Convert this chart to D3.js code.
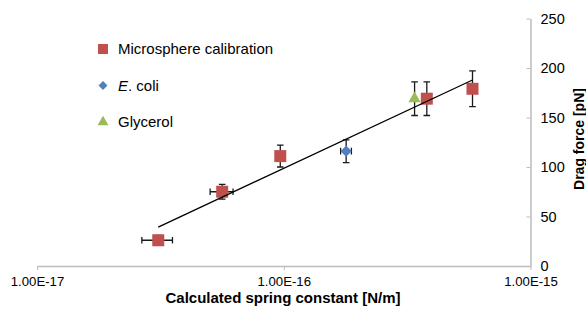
<!DOCTYPE html>
<html>
<head>
<meta charset="utf-8">
<script src="https://cdn.jsdelivr.net/npm/d3@7"></script>
<style>
  body { margin: 0; background: #fff; }
  svg { display: block; font-family: "Liberation Sans", Arial, sans-serif; }
</style>
</head>
<body>
<svg></svg>
<script>
//data
const seriesNames = ["Microsphere calibration", "E. coli", "Glycerol"];
const xTicks = [1e-17, 1e-16, 1e-15];
const yTicks = [0, 50, 100, 150, 200, 250];

// Microsphere calibration
const microK = [3.1e-17, 5.63e-17, 9.68e-17, 3.8e-16, 5.82e-16];
const microKerr = [0.44e-17, 0.6e-17, 0, 0, 0];
const microF = [26, 75, 111, 169, 179];
const microFerr = [5, 7.5, 11, 17, 18];
// E. coli
const ecoliK = [1.79e-16];
const ecoliKerr = [0.09e-16];
const ecoliF = [116];
const ecoliFerr = [11.5];
// Glycerol
const glyK = [3.39e-16];
const glyKerr = [0];
const glyF = [169];
const glyFerr = [17];

//setting
const Width = 586;
const Height = 312;
const svg = d3.select("svg").attr("width", Width).attr("height", Height);

const x = d3.scaleLog().domain([1e-17, 1e-15]).range([37, 530.5]);
const y = d3.scaleLinear().domain([0, 250]).range([266, 18.5]);

const axisColor = "#bdbdbd";

//x axis
const gx = svg.append("g")
  .attr("transform", `translate(0,${y(0)})`)
  .call(d3.axisBottom(x).tickValues(xTicks).tickSizeInner(4).tickSizeOuter(0).tickPadding(7)
    .tickFormat(d => d.toExponential(2).toUpperCase()));
gx.select(".domain").attr("stroke", axisColor).attr("stroke-width", 1.5);
gx.selectAll(".tick line").attr("stroke", axisColor);
gx.selectAll(".tick text").attr("fill", "#000").style("font-size", "13.2px");

//y axis
const gy = svg.append("g")
  .attr("transform", `translate(${x(1e-15)},0)`)
  .call(d3.axisRight(y).tickValues(yTicks).tickSizeInner(-4).tickSizeOuter(0).tickPadding(10));
gy.select(".domain").attr("stroke", axisColor).attr("stroke-width", 1.5);
gy.selectAll(".tick line").attr("stroke", axisColor);
gy.selectAll(".tick text").attr("fill", "#000").style("font-size", "14.5px");

//axis titles
svg.append("text")
  .attr("x", 283).attr("y", 303)
  .attr("text-anchor", "middle")
  .style("font-size", "15px").style("font-weight", "bold")
  .text("Calculated spring constant [N/m]");
svg.append("text")
  .attr("transform", "translate(583.5,139) rotate(-90)")
  .attr("text-anchor", "middle")
  .style("font-size", "14px").style("font-weight", "bold")
  .text("Drag force [pN]");

//series
const series = [
  {name: seriesNames[0], k: microK, kerr: microKerr, f: microF, ferr: microFerr, color: "#C0504D", sym: d3.symbolSquare, size: 144, rot: 0},
  {name: seriesNames[1], k: ecoliK, kerr: ecoliKerr, f: ecoliF, ferr: ecoliFerr, color: "#4F81BD", sym: d3.symbolSquare, size: 62, rot: 45},
  {name: seriesNames[2], k: glyK, kerr: glyKerr, f: glyF, ferr: glyFerr, color: "#9BBB59", sym: d3.symbolTriangle, size: 66, rot: 0}
];

const errG = svg.append("g").attr("stroke", "#1a1a1a").attr("stroke-width", 1.3).attr("fill", "none");
const cap = 3.3;
series.forEach(s => {
  s.k.forEach((k, i) => {
    const cx = x(k), cy = y(s.f[i]);
    if (s.ferr[i] > 0) {
      const y1 = y(s.f[i] + s.ferr[i]), y2 = y(s.f[i] - s.ferr[i]);
      errG.append("path").attr("d", `M${cx},${y1}V${y2}M${cx - cap},${y1}H${cx + cap}M${cx - cap},${y2}H${cx + cap}`);
    }
    if (s.kerr[i] > 0) {
      const x1 = x(k - s.kerr[i]), x2 = x(k + s.kerr[i]);
      errG.append("path").attr("d", `M${x1},${cy}H${x2}M${x1},${cy - cap}V${cy + cap}M${x2},${cy - cap}V${cy + cap}`);
    }
  });
});

//markers
series.forEach(s => {
  svg.append("g")
    .selectAll("path")
    .data(s.k)
    .join("path")
    .attr("d", d3.symbol().type(s.sym).size(s.size))
    .attr("transform", (d, i) => `translate(${x(d)},${y(s.f[i])}) rotate(${s.rot})`)
    .attr("fill", s.color);
});

//trendline: log fit of microsphere calibration
const lx = microK.map(d => Math.log10(d));
const mx = d3.mean(lx), my = d3.mean(microF);
const slope = d3.sum(lx, (d, i) => (d - mx) * (microF[i] - my)) / d3.sum(lx, d => (d - mx) * (d - mx));
const icpt = my - slope * mx;
const trend = [d3.min(microK), d3.max(microK)];
svg.append("path")
  .datum(trend)
  .attr("d", d3.line().x(d => x(d)).y(d => y(icpt + slope * Math.log10(d))))
  .attr("stroke", "#000").attr("stroke-width", 1.3).attr("fill", "none");

//legend
const legend = svg.append("g").attr("transform", "translate(103,49)");
const legendSizes = [100, 40, 52];
series.forEach((s, i) => {
  const g = legend.append("g").attr("transform", `translate(0,${i * 36.5})`);
  g.append("path")
    .attr("d", d3.symbol().type(s.sym).size(legendSizes[i]))
    .attr("transform", `rotate(${s.rot})`)
    .attr("fill", s.color);
  const t = g.append("text").attr("x", 15).attr("y", 5.3).style("font-size", "15px").attr("fill", "#000");
  if (i === 1) {
    t.append("tspan").style("font-style", "italic").text("E");
    t.append("tspan").text(". coli");
  } else {
    t.text(s.name);
  }
});
</script>
</body>
</html>
